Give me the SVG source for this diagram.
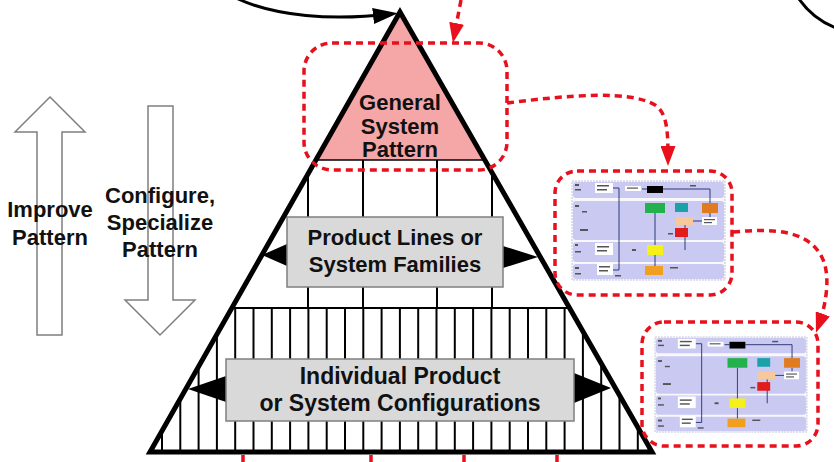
<svg xmlns="http://www.w3.org/2000/svg" width="834" height="462" viewBox="0 0 834 462">
<defs>
<style>
.red{fill:none;stroke:#e8101c;stroke-width:3.5;stroke-dasharray:7 5}
.blk{fill:none;stroke:#000;stroke-width:3}
.lbl{font-family:"Liberation Sans",Arial,sans-serif;font-weight:bold;font-size:22px;fill:#111;text-anchor:middle}
.grid{fill:none;stroke:#000;stroke-width:2}
.box{fill:#d9d9d9;stroke:#7f7f7f;stroke-width:1.5}
.harrow{fill:#fff;stroke:#7f7f7f;stroke-width:1.5}
.ptr{fill:#000}
.ln{fill:none;stroke:#1f2a6a;stroke-width:0.9}
.lane{fill:#c9c9f2}
.wb{fill:#fff}
.tx{fill:#555}
</style>
<clipPath id="pyrClip"><polygon points="400,12 150,452 652,452"/></clipPath>
<marker id="redHead" markerUnits="userSpaceOnUse" markerWidth="20" markerHeight="15" viewBox="0 0 20 15" refX="14" refY="7.5" orient="auto"><path d="M0,0 L20,7.5 L0,15 z" fill="#e8101c"/></marker>
<marker id="blkHead" markerUnits="userSpaceOnUse" markerWidth="25" markerHeight="16" viewBox="0 0 25 16" refX="18" refY="8" orient="auto"><path d="M0,0 L25,8 L0,16 z" fill="#000"/></marker>
<g id="thumbArt">
<rect x="0" y="0" width="153" height="99" fill="#f7f7fc" stroke="#a0a0b8" stroke-width="0.6" stroke-dasharray="2 1"/>
<rect class="lane" x="1" y="1" width="151" height="16" rx="3"/>
<rect class="lane" x="1" y="20" width="151" height="39" rx="3"/>
<rect class="lane" x="1" y="61" width="151" height="20" rx="3"/>
<rect class="lane" x="1" y="83" width="151" height="15" rx="3"/>
<path class="ln" d="M41 7 H47 V89 H41 M70 8 H75 M91 8 H138 V22 M83 32 V85 M113 44 V69 M121 40 H130 M138 32 V36"/>
<rect class="wb" x="23" y="2" width="18" height="10"/>
<rect class="wb" x="53" y="5" width="16" height="5"/>
<rect class="wb" x="23" y="62" width="18" height="12"/>
<rect class="wb" x="25" y="82" width="16" height="12"/>
<rect class="wb" x="130" y="36" width="15" height="8"/>
<rect x="75" y="5" width="16" height="7" fill="#000"/>
<rect x="73" y="22" width="20" height="10" fill="#22b14c"/>
<rect x="103" y="22" width="13" height="9" fill="#1ba1a8"/>
<rect x="130" y="22" width="16" height="10" fill="#e07b20"/>
<rect x="104" y="36" width="17" height="8" fill="#f7c99a"/>
<rect x="103" y="47" width="13" height="9" fill="#e21b1b"/>
<rect x="75" y="64" width="16" height="10" fill="#f5ef1a"/>
<rect x="73" y="85" width="18" height="9" fill="#f0a020"/>
<g class="tx">
<rect x="25" y="4" width="12" height="1.5"/><rect x="25" y="8" width="10" height="1.5"/>
<rect x="55" y="6.5" width="11" height="1.2"/>
<rect x="25" y="65" width="12" height="1.5"/><rect x="25" y="69" width="10" height="1.5"/>
<rect x="27" y="85" width="11" height="1.5"/><rect x="27" y="89" width="9" height="1.5"/>
<rect x="3" y="3" width="4" height="2"/><rect x="3" y="8" width="6" height="1.5"/>
<rect x="3" y="24" width="4" height="2"/><rect x="10" y="30" width="5" height="1.5"/>
<rect x="8" y="48" width="8" height="2"/><rect x="3" y="63" width="3" height="2"/>
<rect x="3" y="70" width="6" height="1.5"/><rect x="3" y="86" width="4" height="2"/>
<rect x="3" y="92" width="6" height="1.5"/><rect x="60" y="68" width="4" height="2"/>
<rect x="98" y="86" width="8" height="1.5"/><rect x="96" y="52" width="5" height="1.5"/>
<rect x="132" y="38" width="11" height="1.2"/><rect x="132" y="41" width="8" height="1.2"/>
<rect x="118" y="4" width="6" height="1.5"/><rect x="43" y="94" width="6" height="1.5"/>
</g>
</g>
</defs>

<g id="improve-arrow">
<path class="harrow" d="M50 97 L85 132 L62 132 L62 335 L37 335 L37 132 L15 132 Z"/>
<text class="lbl" x="50" y="217">Improve</text>
<text class="lbl" x="50" y="245">Pattern</text>
</g>

<g id="configure-arrow">
<path class="harrow" d="M148 106 L173 106 L173 300 L195 300 L160 335 L125 300 L148 300 Z"/>
<text class="lbl" x="160" y="203">Configure,</text>
<text class="lbl" x="160" y="230">Specialize</text>
<text class="lbl" x="160" y="257">Pattern</text>
</g>

<g id="pyramid">
<polygon points="400,12 150,452 652,452" fill="#fff"/>
<g clip-path="url(#pyrClip)">
<polygon points="400,12 300,160 500,160" fill="#f5a6a6"/>
<path d="M300 160 H500" fill="none" stroke="#000" stroke-width="1.5"/>
<path class="grid" d="M308 160 V308 M363 160 V308 M437 160 V308 M492 160 V308"/>
<path class="grid" d="M200 308 H600"/>
<path class="grid" d="M162 308 V452 M180.3 308 V452 M198.6 308 V452 M216.9 308 V452 M235.2 308 V452 M253.5 308 V452 M271.8 308 V452 M290.1 308 V452 M308.4 308 V452 M326.7 308 V452 M345 308 V452 M363.3 308 V452 M381.6 308 V452 M399.9 308 V452 M418.2 308 V452 M436.5 308 V452 M454.8 308 V452 M473.1 308 V452 M491.4 308 V452 M509.7 308 V452 M528 308 V452 M546.3 308 V452 M564.6 308 V452 M582.9 308 V452 M601.2 308 V452 M619.5 308 V452 M637.8 308 V452"/>
</g>
</g>

<g id="general-system-pattern">
<text class="lbl" x="400" y="110">General</text>
<text class="lbl" x="400" y="133.5">System</text>
<text class="lbl" x="400" y="157">Pattern</text>
</g>

<g id="product-lines">
<polygon class="ptr" points="287,244 262,255 287,266"/>
<polygon class="ptr" points="503,246 538,257 503,268"/>
<rect class="box" x="287" y="217" width="216" height="70"/>
<text class="lbl" x="395" y="245">Product Lines or</text>
<text class="lbl" x="395" y="272">System Families</text>
</g>

<g id="individual-configurations">
<polygon class="ptr" points="226,376 188,389 226,402"/>
<polygon class="ptr" points="574,373 611,388 574,403"/>
<rect class="box" x="226" y="359" width="348" height="62"/>
<text class="lbl" x="400" y="384" style="font-size:23px">Individual Product</text>
<text class="lbl" x="400" y="410.5" style="font-size:23px">or System Configurations</text>
</g>

<g id="pyramid-outline">
<polygon points="400,12 150,452 652,452" fill="none" stroke="#000" stroke-width="5" stroke-linejoin="miter"/>
</g>

<g id="general-highlight">
<rect class="red" x="304" y="43" width="203" height="127" rx="28"/>
</g>

<g id="thumb1">
<use href="#thumbArt" transform="translate(572,181)"/>
<rect class="red" x="555" y="171" width="177" height="124" rx="22"/>
</g>

<g id="thumb2">
<use href="#thumbArt" transform="translate(655,337) scale(0.993,0.96)"/>
<rect class="red" x="642" y="322" width="176" height="124" rx="22"/>
</g>

<g id="connectors">
<path class="blk" d="M238 -1 C276 16 330 21 391 14" marker-end="url(#blkHead)"/>
<path class="blk" d="M799 -1 Q813 19 836 28"/>
<path class="red" d="M461 0 L454 37" marker-end="url(#redHead)"/>
<path class="red" d="M507 103 C570 95 630 90 655 105 C668 113 668 135 668 160" marker-end="url(#redHead)"/>
<path class="red" d="M733 232 C775 228 812 230 824 262 C830 280 826 305 818 327" marker-end="url(#redHead)"/>
<path class="red" d="M243 455 V462 M371 455 V462 M464 455 V462 M557 455 V462"/>
</g>
</svg>
